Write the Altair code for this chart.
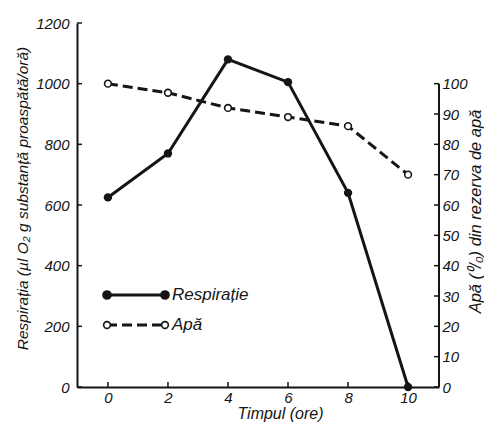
import altair as alt
import pandas as pd

# ---- data ----
hours = [0, 2, 4, 6, 8, 10]
respiration = [625, 770, 1080, 1005, 640, 0]   # µl O2 / g / h (left axis)
water = [100, 97, 92, 89, 86, 70]               # % of water reserve (right axis)

left_tick_values = [0, 200, 400, 600, 800, 1000, 1200]
right_tick_values = [0, 10, 20, 30, 40, 50, 60, 70, 80, 90, 100]
x_tick_values = [0, 2, 4, 6, 8, 10]

legend_labels = ["Respirație", "Apă"]

# ---- styling ----
FONT = "Liberation Sans Narrow, Liberation Sans, sans-serif"
INK = "#151515"
W, H = 362, 364

df_r = pd.DataFrame({"t": hours, "v": respiration})
df_w = pd.DataFrame({"t": hours, "v": water})
df_lt = pd.DataFrame({"v": left_tick_values})
df_rt = pd.DataFrame({"v": right_tick_values})
df_xt = pd.DataFrame({"t": x_tick_values})

common = dict(ticks=False, grid=False, format="d", labelFont=FONT, titleFont=FONT,
              labelFontStyle="italic", titleFontStyle="italic", titleFontWeight="normal",
              labelColor=INK, titleColor=INK, labelFontSize=15)

xscale = alt.Scale(domain=[-1.03, 11.03], nice=False, zero=False)
xaxis = alt.Axis(values=x_tick_values, labelPadding=3,
                 title="Timpul (ore)", titleX=203, titleY=26, titleBaseline="middle",
                 titleFontSize=16, **common)
X = alt.X("t:Q", scale=xscale, axis=xaxis)

yl_scale = alt.Scale(domain=[0, 1200], nice=False)
yl_axis = alt.Axis(values=left_tick_values, labelPadding=8,
                   title="Respirația (µl O₂ g substanță proaspătă/oră)",
                   titleX=-55, titleY=175, titleAngle=270, titleBaseline="middle",
                   titleAlign="center", titleFontSize=15.5, **common)
YL = alt.Y("v:Q", scale=yl_scale, axis=yl_axis)

yr_scale = alt.Scale(domain=[0, 120], nice=False)
yr_axis = alt.Axis(orient="right", values=right_tick_values, domain=False, labelPadding=3,
                   title="Apă (⁰/₀) din rezerva de apă",
                   titleX=36, titleY=188, titleAngle=270, titleBaseline="middle",
                   titleAlign="center", titleFontSize=16.5, **common)
YR = alt.Y("v:Q", scale=yr_scale, axis=yr_axis)

# ---- left (respiration) layer ----
resp_line = alt.Chart(df_r).mark_line(color=INK, strokeWidth=3).encode(x=X, y=YL)
resp_pts = alt.Chart(df_r).mark_point(filled=True, color=INK, size=70, opacity=1).encode(x=X, y=YL)
left_ticks = alt.Chart(df_lt).mark_rule(color=INK, strokeWidth=1.5).encode(
    y=YL, x=alt.value(0), x2=alt.value(5))
x_ticks = alt.Chart(df_xt).mark_rule(color=INK, strokeWidth=1.5).encode(
    x=X, y=alt.value(H), y2=alt.value(H - 5))

# custom legend inside the plot
legend_layers = []
leg_rows = [
    dict(label=legend_labels[0], y=272, dash=[1, 0], fill=INK),
    dict(label=legend_labels[1], y=302, dash=[10, 5], fill="white"),
]
for row in leg_rows:
    d = pd.DataFrame({"label": [row["label"]]})
    base = alt.Chart(d)
    legend_layers.append(base.mark_rule(color=INK, strokeWidth=3, strokeDash=row["dash"]).encode(
        x=alt.value(30), x2=alt.value(88), y=alt.value(row["y"])))
    for px in (30, 88):
        legend_layers.append(base.mark_point(shape="circle", size=45 if row["fill"] == "white" else 65,
                                             fill=row["fill"], stroke=INK, strokeWidth=1.6,
                                             opacity=1, fillOpacity=1).encode(
            x=alt.value(px), y=alt.value(row["y"])))
    legend_layers.append(base.mark_text(align="left", baseline="middle", font=FONT,
                                        fontStyle="italic", fontSize=17, color=INK).encode(
        x=alt.value(95), y=alt.value(row["y"]), text="label:N"))

left = alt.layer(resp_line, resp_pts, left_ticks, x_ticks, *legend_layers)

# ---- right (water) layer ----
water_line = alt.Chart(df_w).mark_line(color=INK, strokeWidth=3, strokeDash=[10, 5]).encode(x=X, y=YR)
water_pts = alt.Chart(df_w).mark_point(shape="circle", fill="white", stroke=INK, strokeWidth=1.6,
                                       size=45, opacity=1, fillOpacity=1).encode(x=X, y=YR)
right_ticks = alt.Chart(df_rt).mark_rule(color=INK, strokeWidth=1.5).encode(
    y=YR, x=alt.value(W - 5), x2=alt.value(W))
right_domain = alt.Chart(pd.DataFrame({"a": [0], "b": [100]})).mark_rule(color=INK, strokeWidth=2).encode(
    y=alt.Y("a:Q", scale=yr_scale, axis=yr_axis), y2="b:Q", x=alt.value(W))

right = alt.layer(water_line, water_pts, right_ticks, right_domain)

chart = alt.layer(left, right).resolve_scale(y="independent").properties(
    width=W, height=H,
    autosize=alt.AutoSizeParams(type="none"),
    padding={"left": 69, "top": 15, "right": 45, "bottom": 36},
    background="white",
).configure_view(stroke=None).configure_axis(
    domainColor=INK, domainWidth=2,
)

chart.save("out.html", embed_options={"renderer": "svg", "actions": False})
